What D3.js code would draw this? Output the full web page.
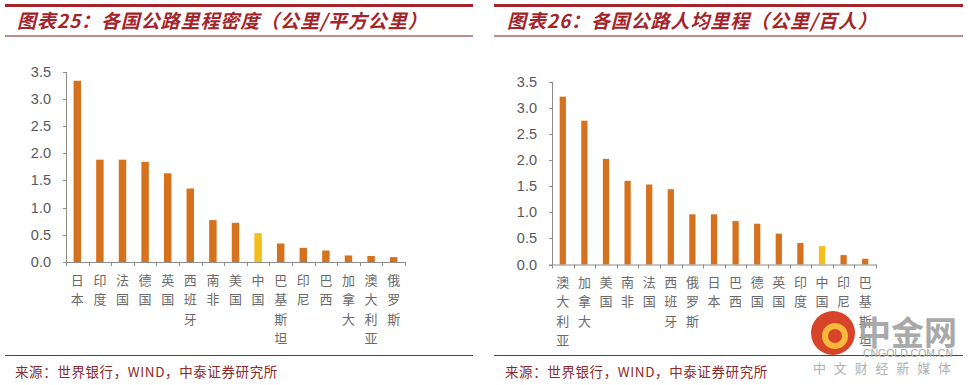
<!DOCTYPE html>
<html lang="zh">
<head>
<meta charset="UTF-8" />
<title>各国公路里程</title>
<script src="https://cdn.jsdelivr.net/npm/d3@7"></script>
<style>
  body { margin: 0; background: #fff; }
  .axis path, .axis line { stroke: #8c8c8c; shape-rendering: crispEdges; }
  .axis text { font-family: Arial, "Liberation Sans", sans-serif; font-size: 14.5px; fill: #595959; }
  .cat { font-family: "Noto Sans CJK SC", serif; font-size: 13px; fill: #6a6a6a; }
  .title { font-family: "Noto Sans CJK SC", sans-serif; font-size: 19px; letter-spacing: 0.9px; font-weight: bold; font-style: italic; fill: #a3252b; }
  .src { font-family: "Noto Sans CJK SC", sans-serif; font-size: 13.5px; letter-spacing: 0.6px; fill: #8e2a2a; }
</style>
</head>
<body>
<script>
// 图表25：各国公路里程密度（公里/平方公里）
var densityCountries = ["日本", "印度", "法国", "德国", "英国", "西班牙", "南非", "美国", "中国", "巴基斯坦", "印尼", "巴西", "加拿大", "澳大利亚", "俄罗斯"];
var densityValues = [3.33, 1.88, 1.88, 1.84, 1.63, 1.35, 0.77, 0.72, 0.53, 0.34, 0.26, 0.21, 0.12, 0.11, 0.09];

// 图表26：各国公路人均里程（公里/百人）
var perCapitaCountries = ["澳大利亚", "加拿大", "美国", "南非", "法国", "西班牙", "俄罗斯", "日本", "巴西", "德国", "英国", "印度", "中国", "印尼", "巴基斯坦"];
var perCapitaValues = [3.21, 2.75, 2.02, 1.60, 1.53, 1.44, 0.96, 0.96, 0.83, 0.78, 0.59, 0.41, 0.35, 0.18, 0.11];

var yTicks = [0, 0.5, 1.0, 1.5, 2.0, 2.5, 3.0, 3.5];
var highlight = "中国";

var w = 968, h = 385;
var svg = d3.select("body").append("svg").attr("width", w).attr("height", h);

function panel(opt) {
  var g = svg.append("g");

  // header rules and title
  g.append("rect").attr("x", opt.left).attr("y", 4).attr("width", opt.right - opt.left).attr("height", 3).attr("fill", "#a3252b");
  g.append("rect").attr("x", opt.left).attr("y", 35.5).attr("width", opt.right - opt.left).attr("height", 1).attr("fill", "#7a1d1d");
  g.append("text").attr("class", "title").attr("x", opt.titleX).attr("y", 28).text(opt.title);

  // footer rule and source
  g.append("rect").attr("x", opt.left).attr("y", 355).attr("width", opt.right - opt.left).attr("height", 1).attr("fill", "#8e2a2a");
  g.append("text").attr("class", "src").attr("x", opt.titleX - 2).attr("y", 377).text("来源：世界银行，WIND，中泰证券研究所");

  var data = opt.cats.map(function(c, i) { return { cat: c, val: opt.vals[i] }; });

  var xScale = d3.scaleBand().domain(opt.cats).range([opt.x0, opt.x1]).paddingInner(opt.pad).paddingOuter(opt.pad / 2);
  var yScale = d3.scaleLinear().domain([0, 3.5]).range([opt.y0, opt.y1]);

  g.selectAll(".bar")
    .data(data)
    .enter()
    .append("rect")
    .attr("class", "bar")
    .attr("x", function(d) { return xScale(d.cat); })
    .attr("width", xScale.bandwidth())
    .attr("y", function(d) { return yScale(d.val); })
    .attr("height", function(d) { return yScale(0) - yScale(d.val); })
    .attr("fill", function(d) { return d.cat == highlight ? "#f3bd1c" : "#d6721d"; });

  var yAxis = d3.axisLeft(yScale).tickValues(yTicks).tickSize(3).tickPadding(12)
    .tickFormat(d3.format(".1f"));
  g.append("g").attr("class", "axis").attr("transform", "translate(" + opt.x0 + ",0)").call(yAxis);

  // x axis line with ticks between categories
  var step = xScale.step();
  g.append("line").attr("class", "axis")
    .attr("x1", opt.x0 - 3).attr("x2", opt.x1)
    .attr("y1", opt.y0 + 0.5).attr("y2", opt.y0 + 0.5)
    .attr("stroke", "#8c8c8c");
  var bounds = d3.range(opt.cats.length + 1).map(function(i) { return opt.x0 + i * step; });
  g.selectAll(".xtick")
    .data(bounds)
    .enter()
    .append("line")
    .attr("x1", function(d) { return Math.round(d) + 0.5; })
    .attr("x2", function(d) { return Math.round(d) + 0.5; })
    .attr("y1", opt.y0).attr("y2", opt.y0 + 4)
    .attr("stroke", "#8c8c8c");

  // vertical category labels, one character per line
  var labels = g.selectAll(".cat")
    .data(data)
    .enter()
    .append("text")
    .attr("class", "cat")
    .attr("text-anchor", "middle")
    .attr("x", function(d) { return xScale(d.cat) + xScale.bandwidth() / 2; })
    .attr("y", opt.labelY);
  labels.each(function(d) {
    var t = d3.select(this);
    d.cat.split("").forEach(function(ch, i) {
      t.append("tspan")
        .attr("x", xScale(d.cat) + xScale.bandwidth() / 2)
        .attr("dy", i == 0 ? 0 : 19.3)
        .text(ch);
    });
  });
}

panel({
  left: 5, right: 473, titleX: 17,
  title: "图表25：各国公路里程密度（公里/平方公里）",
  cats: densityCountries, vals: densityValues,
  x0: 66, x1: 405, y0: 262, y1: 71.5, pad: 0.67, labelY: 285
});

panel({
  left: 494, right: 963, titleX: 507,
  title: "图表26：各国公路人均里程（公里/百人）",
  cats: perCapitaCountries, vals: perCapitaValues,
  x0: 552, x1: 876, y0: 264.5, y1: 81.5, pad: 0.71, labelY: 287
});

// watermark
var wm = svg.append("g");
wm.append("circle").attr("cx", 833).attr("cy", 333).attr("r", 22).attr("fill", "#d8442a");
wm.append("circle").attr("cx", 835).attr("cy", 336).attr("r", 10).attr("fill", "none").attr("stroke", "#f6b93b").attr("stroke-width", 6);
wm.append("text").attr("x", 858).attr("y", 345).attr("font-family", "Noto Sans CJK SC").attr("font-weight", "bold")
  .attr("font-size", 33).attr("fill", "#a0a0a0").attr("opacity", 0.9).text("中金网");
wm.append("text").attr("x", 863).attr("y", 357).attr("font-family", "Arial").attr("font-size", 10.5)
  .attr("fill", "#a8a8a8").attr("textLength", 90).text("CNGOLD.COM.CN");
wm.append("text").attr("x", 813).attr("y", 373).attr("font-family", "Noto Sans CJK SC").attr("font-size", 13)
  .attr("fill", "#b0b0b0").attr("textLength", 138).text("中文财经新媒体");
</script>
</body>
</html>
